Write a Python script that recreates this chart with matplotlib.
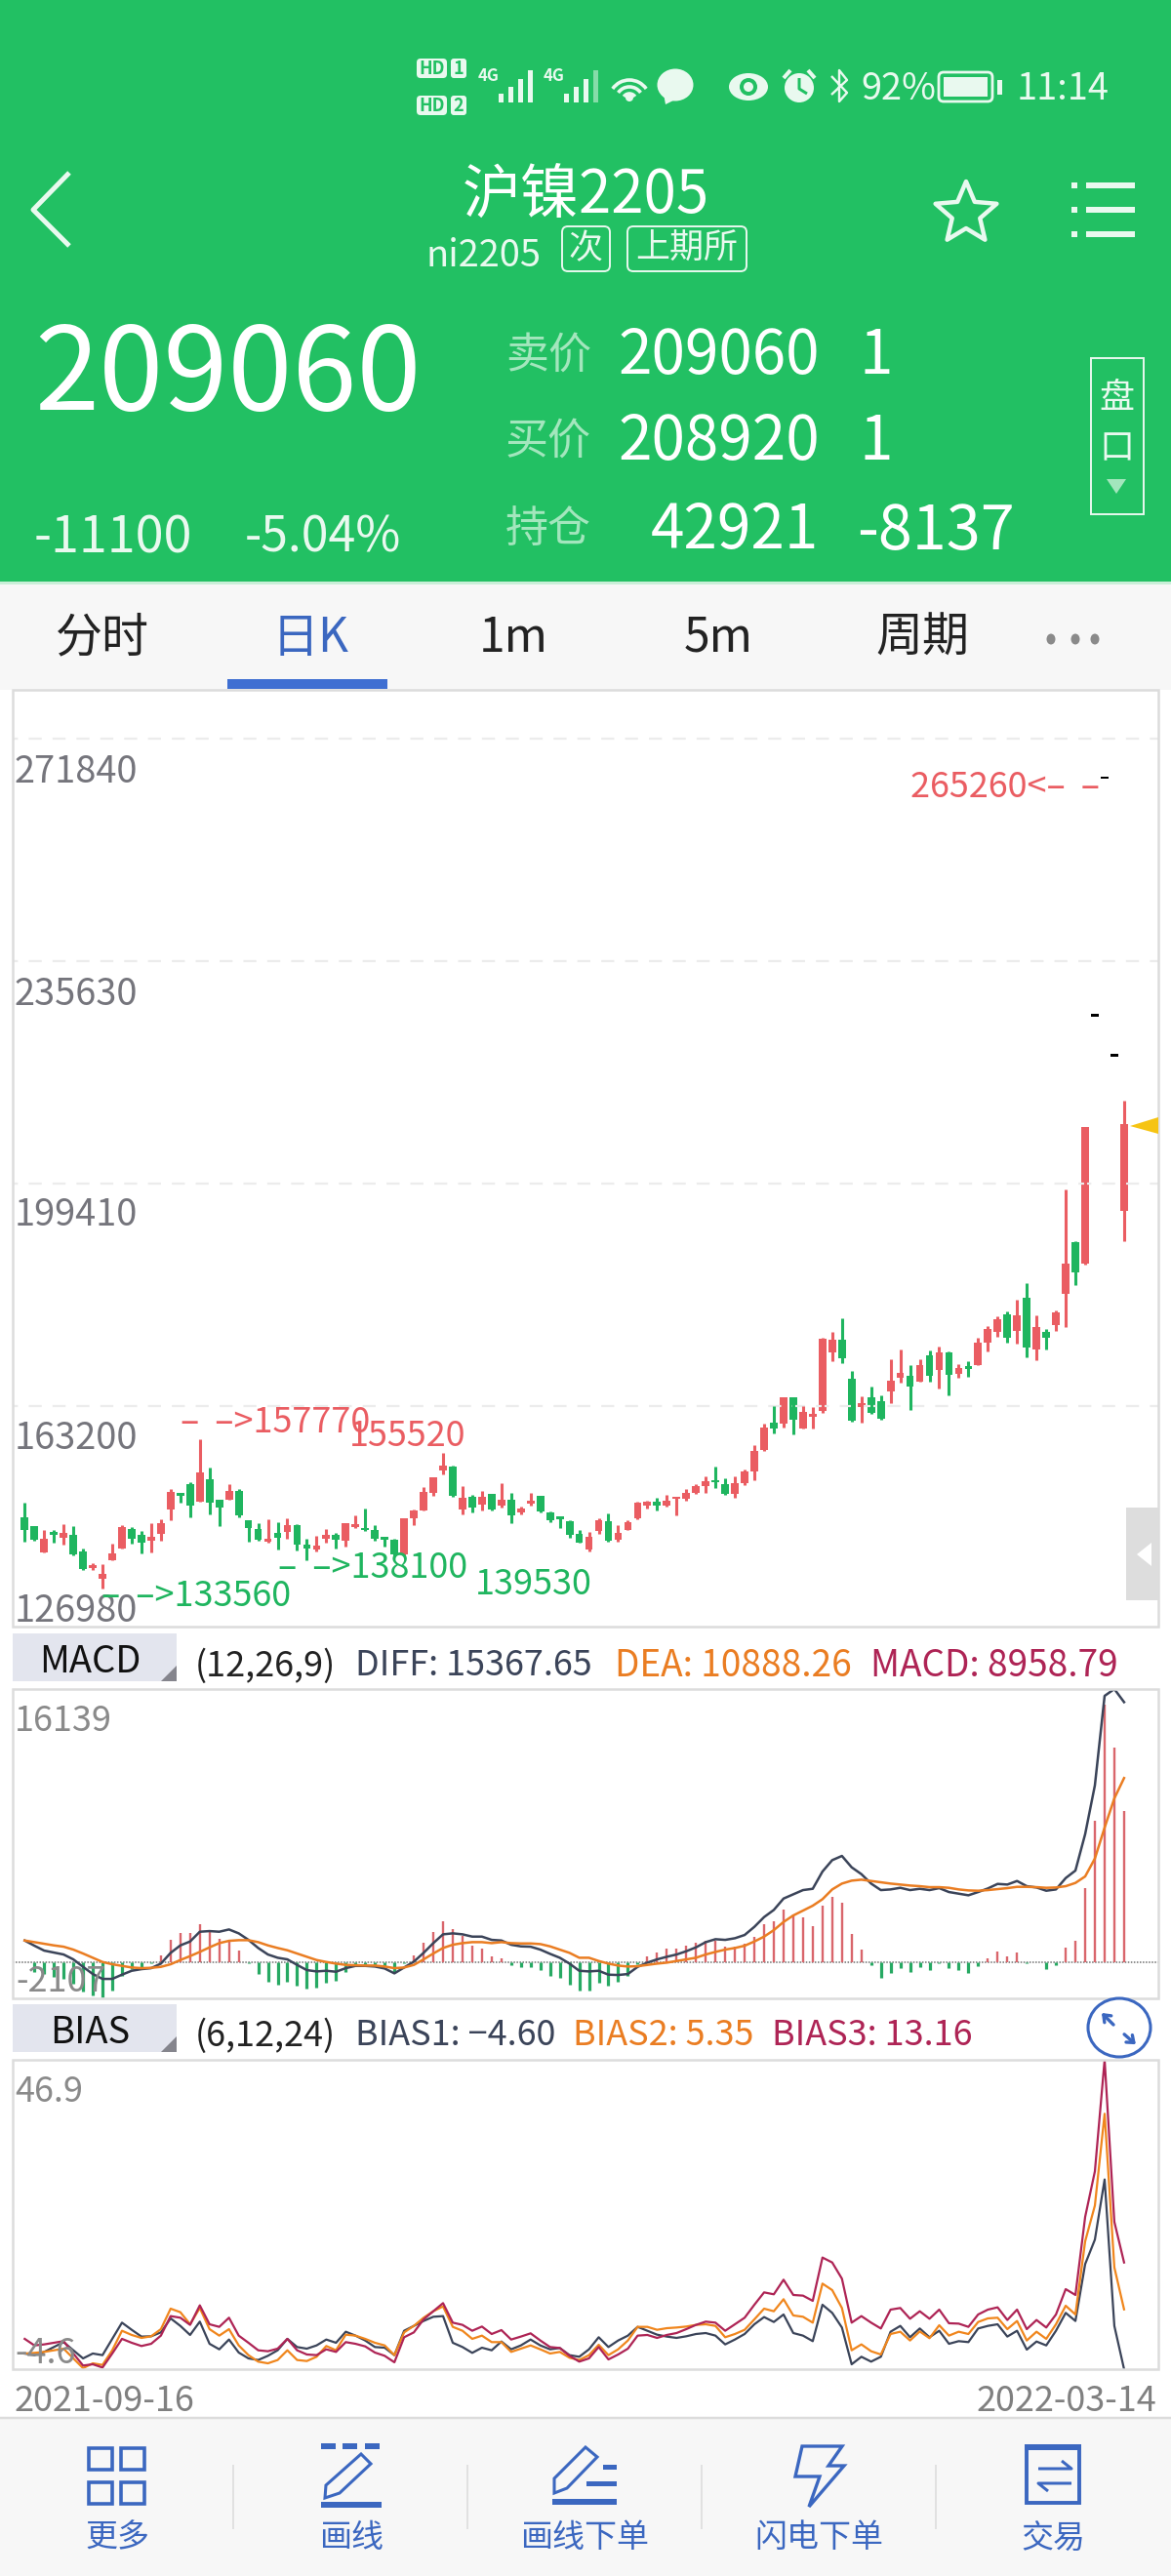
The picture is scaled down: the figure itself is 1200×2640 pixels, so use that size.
import matplotlib
matplotlib.use('Agg')
import matplotlib.pyplot as plt
import numpy as np
from matplotlib.patches import Rectangle, Polygon, Circle, FancyBboxPatch, Arc, Ellipse

plt.rcParams['font.family'] = ['Noto Sans CJK SC', 'DejaVu Sans']

# daily candles, ni2205, 2021-09-16 .. 2022-03-14
opens = [145090, 143610, 139430, 142440, 141760, 142290, 139530, 136880, 135080, 138160,
         139960, 143240, 142290, 141230, 142340, 146310, 148800, 150550, 147690, 151290,
         147900, 147950, 149430, 144560, 143130, 141070, 142550, 142710, 143770, 140590,
         139800, 141650, 142290, 141280, 143500, 143240, 142970, 141650, 141440, 139000,
         144990, 146260, 149060, 152660, 153300, 146420, 148370, 147100, 148850, 147050,
         147900, 145940, 147260, 148530, 145890, 144990, 144460, 142440, 139870, 142810,
         144460, 141400, 143100, 144930, 146920, 147570, 146980, 148040, 148100, 149100,
         150160, 150920, 150450, 148860, 150680, 152560, 156090, 160440, 160320, 164550,
         159560, 161440, 162380, 171900, 173950, 167610, 162970, 164550, 163960, 165610,
         167730, 168080, 167200, 171490, 169020, 172010, 168490, 169370, 169900, 173540,
         175310, 178070, 175420, 180770, 172370, 175310, 176360, 181470, 189940, 186350,
         226580, 265260, 220060, 194990]
closes = [142970, 141390, 141650, 142180, 142600, 139000, 136620, 137150, 135930, 139270,
          143450, 141650, 141010, 141910, 144140, 149170, 148640, 146940, 152400, 147470,
          146730, 149330, 145360, 143400, 141390, 141230, 141810, 143770, 140700, 139960,
          140490, 142290, 141390, 144090, 143660, 142970, 141650, 141390, 139000, 144930,
          146150, 149220, 151550, 153510, 148640, 148270, 146680, 148370, 146310, 147900,
          145460, 146570, 147850, 145990, 144620, 144720, 142290, 141010, 141990, 144570,
          141340, 142580, 144340, 147510, 147630, 147040, 147750, 148220, 149040, 150160,
          151040, 150740, 148860, 150630, 152560, 155970, 159730, 159620, 164550, 160910,
          162200, 161610, 174190, 174070, 171020, 160790, 163670, 162080, 161140, 167370,
          168550, 166310, 169840, 168080, 171900, 168250, 169430, 169190, 173480, 175720,
          177360, 174250, 178010, 172660, 176010, 174310, 178420, 186350, 184940, 208560,
          226580, 265260, 220060, 209060]
highs = [147470, 143610, 142970, 142970, 144030, 143610, 139960, 137680, 137410, 140750,
         143770, 143450, 142810, 144190, 144720, 149700, 148960, 150760, 157770, 153190,
         148000, 150490, 149700, 144670, 144190, 144720, 144300, 144930, 143930, 141540,
         142020, 143130, 142600, 144190, 145360, 146520, 143770, 141810, 141540, 144990,
         146420, 150020, 151550, 155520, 153460, 150120, 148690, 149330, 148900, 150650,
         149060, 146840, 149060, 148640, 146100, 145250, 144560, 142970, 142690, 144930,
         145750, 143750, 144570, 147570, 147750, 148330, 148800, 148330, 149740, 150570,
         151800, 153390, 151390, 151800, 152920, 156910, 160380, 163140, 164550, 164550,
         163140, 162970, 174250, 175250, 177540, 168840, 164730, 166310, 164900, 170780,
         172370, 169840, 170900, 172310, 172950, 172070, 169960, 170550, 174250, 176300,
         177890, 178540, 180590, 183180, 177950, 175720, 178830, 198520, 190110, 208560,
         226580, 265260, 220060, 212850]
lows = [141120, 141280, 139430, 140960, 140700, 138840, 136510, 136460, 133560, 138160,
        139960, 140860, 139270, 139430, 141280, 144670, 147470, 145140, 147690, 145620,
        143720, 147950, 145140, 141120, 141280, 141010, 139900, 141650, 139690, 138100,
        139530, 140960, 140060, 140330, 143340, 142870, 141330, 140380, 138740, 138900,
        143870, 146150, 148530, 152130, 148480, 145620, 145940, 146260, 146150, 146630,
        144190, 145570, 147050, 145830, 144350, 143340, 141810, 140910, 139530, 142460,
        141110, 141110, 143050, 144810, 146570, 146220, 146870, 145340, 147860, 148920,
        149100, 149920, 148750, 148280, 150390, 151100, 155910, 158730, 159730, 158560,
        159500, 159500, 162080, 170430, 170130, 160620, 160440, 161850, 160910, 163610,
        166960, 162550, 167140, 167200, 166020, 164960, 167840, 167960, 169840, 172070,
        174480, 173540, 173310, 171130, 170660, 172370, 175360, 176010, 182830, 186230,
        226580, 265260, 220060, 190000]

macd = [0, -576, -672, -864, -960, -1247, -1727, -1919, -2072, -1631,
        -768, -384, -249, -38, 441, 1343, 1765, 1727, 2264, 1881,
        1401, 1305, 710, -19, -672, -1151, -1305, -1151, -1382, -1535,
        -1497, -1209, -1055, -576, -134, -96, -154, -192, -576, -58,
        422, 1190, 1823, 2437, 1977, 1593, 998, 825, 384, 249,
        -134, -288, -249, -441, -768, -921, -1286, -1631, -1631, -1209,
        -1343, -1151, -768, -96, 384, 614, 806, 844, 998, 1171,
        1286, 1286, 921, 921, 1094, 1535, 2245, 2456, 3109, 2821,
        2648, 2168, 3358, 3896, 3550, 1708, 768, -154, -921, -633,
        -326, -576, -288, -422, -58, -345, -461, -633, -230, 249,
        672, 384, 614, -19, 0, -403, -154, 902, 1305, 4414,
        8348, 15218, 12704, 8959]
diff = [1305, 998, 710, 595, 480, 192, -249, -672, -960, -960,
        -710, -480, -384, -326, -58, 576, 1017, 1247, 1823, 1861,
        1823, 1957, 1727, 1343, 864, 480, 288, 192, -134, -441,
        -518, -480, -537, -326, -192, -192, -230, -345, -633, -288,
        58, 576, 1151, 1670, 1727, 1670, 1535, 1535, 1343, 1305,
        1055, 960, 940, 768, 518, 288, -58, -480, -518, -480,
        -710, -729, -672, -249, 0, 192, 345, 480, 672, 902,
        1209, 1382, 1343, 1439, 1631, 2111, 2687, 3109, 3780, 4030,
        4279, 4356, 5373, 6045, 6294, 5623, 5220, 4663, 4279, 4318,
        4414, 4279, 4356, 4279, 4395, 4164, 4068, 3972, 4164, 4375,
        4644, 4606, 4817, 4510, 4433, 4241, 4318, 4989, 5431, 7580,
        10459, 15736, 16139, 15367]
dea = [1305, 1209, 1113, 1017, 940, 768, 537, 288, 38, -96,
       -192, -288, -326, -307, -249, -96, 154, 384, 633, 902,
       1151, 1286, 1324, 1324, 1209, 1017, 864, 729, 537, 345,
       154, 38, -58, -134, -154, -173, -173, -230, -326, -288,
       -134, 192, 537, 864, 1055, 1151, 1209, 1209, 1151, 1209,
       1151, 1132, 1132, 1094, 960, 768, 576, 288, 288, 96,
       -58, -173, -230, -211, -134, -58, 0, 96, 192, 288,
       480, 633, 768, 864, 998, 1247, 1535, 1919, 2399, 2783,
       3070, 3358, 3742, 4318, 4663, 4836, 4893, 4817, 4740, 4663,
       4606, 4548, 4510, 4452, 4452, 4414, 4318, 4260, 4241, 4279,
       4337, 4395, 4471, 4471, 4452, 4414, 4433, 4510, 4702, 5085,
       6141, 7964, 9691, 10888]

bias1 = [-2.0, -2.27, -1.73, -0.92, -0.1, -1.46, -2.81, -2.0, -2.27, 0.44,
         3.14, 1.95, 0.82, 0.87, 1.52, 3.85, 2.6, 1.09, 3.31, -0.38,
         -1.3, 0.33, -1.84, -2.81, -3.08, -2.38, -1.46, 0.44, -0.92, -1.19,
         -0.65, 0.33, -0.21, 1.63, 0.98, 0.17, -0.92, -1.03, -2.27, 1.79,
         2.6, 3.42, 4.12, 4.23, -0.21, -0.92, -1.89, -1.03, -1.46, 0.0,
         -1.3, -0.65, 0.33, -0.65, -1.3, -1.08, -2.27, -2.54, -1.3, 0.71,
         -0.92, 0.17, 0.98, 2.44, 1.79, 1.14, 0.82, 0.6, 0.87, 1.25,
         1.41, 0.98, -0.48, 0.33, 1.25, 2.87, 4.07, 3.25, 4.5, 1.41,
         0.98, 0.06, 6.12, 4.77, 2.33, -3.79, -2.54, -3.35, -2.54, 1.63,
         2.6, 0.71, 2.17, 0.71, 1.79, -0.38, 0.06, -0.1, 2.17, 2.6,
         2.87, 0.82, 1.79, -1.35, 0.0, -0.65, 1.79, 4.77, 3.42, 12.89,
         16.96, 26.98, 2.6, -4.6]
bias2 = [-2.0, -1.89, -1.73, -1.46, -1.19, -2.81, -4.44, -3.63, -3.9, -1.46,
         1.79, 1.09, 0.6, 0.87, 2.06, 5.47, 4.88, 2.87, 5.58, 2.06,
         0.98, 2.06, -0.65, -2.27, -3.35, -3.63, -3.08, -1.46, -3.08, -3.25,
         -2.54, -0.75, -1.46, 1.14, 0.98, 0.44, -0.21, -0.65, -2.27, 1.52,
         2.6, 3.96, 5.04, 5.85, 2.44, 1.79, 0.44, 0.98, -0.1, -0.1,
         -1.73, -1.19, -0.65, -1.3, -2.0, -1.73, -2.7, -3.08, -2.27, -0.54,
         -2.27, -1.3, 0.17, 2.44, 2.44, 1.95, 2.22, 2.33, 2.49, 2.77,
         2.87, 2.6, 0.71, 1.25, 1.95, 3.69, 5.47, 5.04, 7.04, 4.34,
         4.12, 3.14, 9.64, 8.56, 5.58, -1.46, -0.48, -1.62, -2.16, 1.25,
         1.63, 0.17, 1.68, 0.55, 2.71, 0.98, 1.63, 1.25, 3.25, 3.85,
         3.96, 2.06, 3.42, 0.17, 1.63, 0.44, 2.87, 5.96, 4.5, 16.68,
         22.64, 37.92, 12.35, 5.35]
bias3 = [0.44, -0.65, -0.48, -0.21, 0.06, -2.0, -4.0, -3.79, -4.33, -2.0,
         0.44, -0.21, -0.75, -0.38, 0.98, 4.23, 3.96, 2.77, 6.02, 2.87,
         2.44, 3.96, 0.98, -0.21, -1.46, -1.62, -1.19, 0.44, -1.46, -2.16,
         -2.27, -1.3, -1.73, -0.1, -0.38, -0.81, -1.84, -2.38, -3.46, 0.71,
         1.52, 3.69, 5.04, 6.39, 3.14, 2.77, 1.79, 2.49, 1.25, 1.9,
         0.33, 0.82, 1.36, 0.17, -0.92, -1.08, -2.38, -3.35, -2.81, -0.92,
         -2.98, -2.16, -1.19, 0.98, 1.09, 0.6, 1.09, 1.41, 2.06, 2.77,
         3.31, 3.14, 1.79, 2.87, 3.96, 6.12, 8.18, 7.86, 10.29, 7.75,
         7.64, 6.77, 13.98, 13.16, 10.46, 3.14, 4.23, 3.14, 2.17, 5.31,
         5.58, 3.79, 5.04, 3.79, 5.31, 3.04, 2.98, 2.44, 4.5, 5.31,
         5.69, 3.58, 5.31, 2.06, 3.58, 2.33, 4.5, 8.72, 7.75, 20.75,
         28.33, 46.9, 19.93, 13.16]

price_ticks = [271840, 235630, 199410, 163200]
price_labels = ['271840', '235630', '199410', '163200', '126980']

RED = '#ea5d62'
GREEN = '#1fb55f'
DARK = '#3b4459'
ORANGE = '#ea7d22'
CRIMSON = '#ae2455'
BLUE = '#3b67c0'
HEAD = '#22c063'
GREY = '#75757c'
FRAME = '#dcdcdc'

W, H = 1200, 2640
fig = plt.figure(figsize=(12, 26.4), dpi=100, facecolor='white')


def panel(top, bottom):
    a = fig.add_axes([13 / W, 1 - bottom / H, 1174 / W, (bottom - top) / H])
    a.patch.set_alpha(0)
    a.axis('off')
    # one candle every 9.97px, first one at x=25
    a.set_xlim((13 - 25.3) / 9.97, (1187 - 25.3) / 9.97)
    return a


x = np.arange(len(opens))
o, c, hi, lo = map(np.array, (opens, closes, highs, lows))
col = np.where(c == o, 'black', np.where(c > o, RED, GREEN))

# K line
ax = panel(707, 1667)
ax.set_ylim(127300, 279790)
ax.hlines(price_ticks, -2, 118, color='#ececec', lw=1.6, linestyles=(0, (6, 5)))
ax.vlines(x, lo, hi, colors=col, lw=2.2)
ax.bar(x, np.maximum(np.abs(c - o), 450), bottom=np.minimum(o, c), width=0.78, color=col)

# MACD
ax2 = panel(1731, 2048)
ax2.set_ylim(-2107, 16139)
ax2.axhline(0, color='#6f6f6f', lw=1.1, ls=(0, (1, 1)))
m = np.array(macd)
ax2.vlines(x[m >= 0], 0, m[m >= 0], colors='#d9666c', lw=1.7)
ax2.vlines(x[m < 0], 0, m[m < 0], colors='#27a963', lw=2.3)
ax2.plot(x, diff, color=DARK, lw=1.8)
ax2.plot(x, dea, color=ORANGE, lw=1.8)

# BIAS
ax3 = panel(2111, 2428)
ax3.set_ylim(-4.6, 46.9)
ax3.plot(x, bias1, color=DARK, lw=1.6)
ax3.plot(x, bias2, color='#f0861d', lw=1.6)
ax3.plot(x, bias3, color=CRIMSON, lw=1.6)

# everything else goes on a pixel overlay
ui = fig.add_axes([0, 0, 1, 1], zorder=10)
ui.set_xlim(0, W)
ui.set_ylim(H, 0)
ui.axis('off')
ui.patch.set_alpha(0)


def t(px, py, s, size, color, ha='left', **kw):
    # the CJK font sits high in its box, push it down a bit
    ui.text(px, py + 0.12 * size, s, fontsize=size * 0.72, color=color, ha=ha, va='center', **kw)


def rect(x0, y0, x1, y1, **kw):
    ui.add_patch(Rectangle((x0, y0), x1 - x0, y1 - y0, **kw))


def line(xs, ys, color, lw, **kw):
    ui.plot(xs, ys, color=color, lw=lw * 0.72, solid_capstyle=kw.pop('cap', 'butt'), **kw)


# header
rect(0, 0, W, 596, fc=HEAD, ec='none')
rect(0, 596, W, 707, fc='#f7f7f7', ec='none')
rect(0, 596, W, 599, fc='#c9efd8', ec='none')
WH = '#e9f9ef'

for yy, n in ((70, '1'), (108, '2')):
    ui.add_patch(FancyBboxPatch((427, yy - 10), 31, 20, boxstyle='round,pad=0,rounding_size=4', fc=WH, ec='none'))
    ui.add_patch(FancyBboxPatch((462, yy - 10), 16, 20, boxstyle='round,pad=0,rounding_size=3', fc=WH, ec='none'))
    ui.text(442.5, yy, 'HD', fontsize=13, color=HEAD, ha='center', va='center', weight='bold')
    ui.text(470, yy, n, fontsize=13, color=HEAD, ha='center', va='center', weight='bold')
for x0 in (511, 578):
    ui.text(x0 - 10, 78, '4G', fontsize=12, color=WH, ha='center', va='center', weight='bold')
    for k, h in enumerate((9, 16, 24, 33)):
        rect(x0 + k * 10, 105 - h, x0 + k * 10 + 5, 105, fc=WH if (x0 == 511 or k < 3) else '#86dca8', ec='none')
for r in (10, 20, 30):
    ui.add_patch(Arc((645, 103), r * 1.4, r * 1.4, theta1=215, theta2=325, ec=WH, lw=2.6))
ui.add_patch(Circle((645, 100), 4, fc=WH, ec='none'))
ui.add_patch(Ellipse((692, 87), 37, 33, fc=WH, ec='none'))
ui.add_patch(Polygon([[680, 96], [696, 100], [682, 107]], fc=WH, ec='none'))
ui.add_patch(Ellipse((767, 89), 40, 28, fc=WH, ec='none'))
ui.add_patch(Circle((767, 89), 9, fc=HEAD, ec='none'))
ui.add_patch(Circle((767, 89), 5, fc=WH, ec='none'))
ui.add_patch(Circle((819, 90), 15, fc=WH, ec='none'))
line([819, 819, 827], [80, 91, 96], HEAD, 3)
line([803, 810], [80, 72], WH, 4)
line([835, 828], [80, 72], WH, 4)
line([852, 868, 860, 860, 868, 852], [78, 95, 104, 72, 82, 97], WH, 2.4)
t(882, 87, '92%', 38, WH)
ui.add_patch(FancyBboxPatch((962, 74), 55, 30, boxstyle='round,pad=0,rounding_size=5', fc='none', ec=WH, lw=2))
rect(967, 79, 1012, 99, fc=WH, ec='none')
rect(1022, 82, 1027, 97, fc=WH, ec='none')
t(1042, 87, '11:14', 38, WH)

line([71, 34, 71], [177, 215, 252], WH, 5)
t(600, 194, '沪镍2205', 60, 'white', ha='center')
t(436, 258, 'ni2205', 38, WH)
for x0, x1, s in ((576, 625, '次'), (643, 765, '上期所')):
    ui.add_patch(FancyBboxPatch((x0, 232), x1 - x0, 46, boxstyle='round,pad=0,rounding_size=6', fc='none', ec=WH, lw=1.4))
    t((x0 + x1) / 2, 251, s, 35, WH, ha='center')
star = np.arange(10) * np.pi / 5 - np.pi / 2
rad = np.where(np.arange(10) % 2 == 0, 33, 15)
ui.add_patch(Polygon(np.c_[990 + rad * np.cos(star), 219 + rad * np.sin(star)], fc='none', ec=WH, lw=3.2, joinstyle='round'))
for yy in (190, 215, 240):
    rect(1098, yy - 3, 1104, yy + 3, fc=WH, ec='none')
    rect(1113, yy - 3, 1163, yy + 3, fc=WH, ec='none')

t(35, 372, '209060', 119, 'white')
t(518, 358, '卖价', 44, '#a3e6bd')
t(633, 358, '209060', 62, 'white')
t(880, 358, '1', 62, 'white')
t(518, 446, '买价', 44, '#a3e6bd')
t(633, 446, '208920', 62, 'white')
t(880, 446, '1', 62, 'white')
t(518, 537, '持仓', 44, '#a3e6bd')
t(667, 537, '42921', 62, 'white')
t(878, 537, '-8137', 63, 'white')
t(35, 546, '-11100', 52, WH)
t(251, 546, '-5.04%', 50, WH)
rect(1118, 367, 1172, 527, fc='none', ec=WH, lw=1.4)
t(1144, 404, '盘', 36, WH, ha='center')
t(1144, 456, '口', 36, WH, ha='center')
ui.add_patch(Polygon([[1134, 491], [1154, 491], [1144, 506]], fc='#a3e6bd', ec='none'))

# tabs
for px, s, cc in ((105, '分时', '#222222'), (318, '日K', BLUE), (526, '1m', '#222222'),
                  (736, '5m', '#222222'), (945, '周期', '#222222')):
    t(px, 648, s, 48, cc, ha='center')
for px in (1077, 1102, 1122):
    ui.add_patch(Ellipse((px, 655), 9, 11, fc='#8a8a8a', ec='none'))
rect(233, 696, 397, 706, fc='#3f6fd2', ec='none')

# frames
for y0, y1 in ((707, 1667), (1731, 2048), (2111, 2428)):
    rect(13, y0, 1187, y1, fc='none', ec=FRAME, lw=1.8)

# side handle and last price marker
rect(1154, 1545, 1187, 1640, fc='#dddddd', ec='none')
ui.add_patch(Polygon([[1165, 1593], [1180, 1581], [1180, 1605]], fc='white', ec='none'))
ui.add_patch(Polygon([[1158, 1154], [1187, 1145], [1187, 1162]], fc='#f6c413', ec='none'))

# price labels
for py, s in zip((787, 1015, 1241, 1470, 1647), price_labels):
    t(15, py, s, 38, GREY, weight='medium')
t(379, 1454, '–  –>157770', 36, RED, ha='right')
t(358, 1468, '155520', 36, RED)
t(298, 1632, '–  –>133560', 36, GREEN, ha='right')
t(479, 1603, '–  –>138100', 36, GREEN, ha='right')
t(487, 1620, '139530', 36, GREEN)
t(1127, 803, '265260<–  –', 36, RED, ha='right')

# indicator headers
for y0, y1, s in ((1674, 1723, 'MACD'), (2054, 2103, 'BIAS')):
    rect(13, y0, 181, y1, fc='#e3e5ee', ec='none')
    ui.add_patch(Polygon([[165, y1], [181, y1], [181, y1 - 16]], fc='#85858d', ec='none'))
    t(92, (y0 + y1) / 2, s, 38, '#111111', ha='center', weight='medium')
t(200, 1703, '(12,26,9)', 36, '#222222')
t(364, 1703, 'DIFF: 15367.65', 36, DARK)
t(630, 1703, 'DEA: 10888.26', 37, ORANGE)
t(892, 1703, 'MACD: 8958.79', 37, CRIMSON)
t(200, 2082, '(6,12,24)', 36, '#222222')
t(364, 2082, 'BIAS1: −4.60', 36, DARK)
t(587, 2082, 'BIAS2: 5.35', 36, ORANGE)
t(791, 2082, 'BIAS3: 13.16', 36, CRIMSON)
t(15, 1760, '16139', 36, '#8a8a8a')
t(16, 2027, '-2107', 36, '#8a8a8a')
t(15, 2140, '46.9', 36, '#8a8a8a')
t(15, 2408, '-4.6', 36, '#8a8a8a')
t(15, 2457, '2021-09-16', 36, '#808080', weight='medium')
t(1185, 2457, '2022-03-14', 36, '#808080', ha='right', weight='medium')

# expand button
ui.add_patch(Ellipse((1147, 2078), 64, 60, fc='white', ec=BLUE, lw=2.2))
for a, b in (((1143, 2077), (1127, 2061)), ((1150, 2083), (1166, 2097))):
    ui.annotate('', xy=b, xytext=a, arrowprops=dict(arrowstyle='->,head_width=0.35,head_length=0.45', color=BLUE, lw=2.4))

# bottom bar
rect(0, 2478, W, 2640, fc='#f7f7f7', ec='none')
line([0, W], [2478, 2478], FRAME, 2.5)
for px, s in zip((120, 360, 599, 839, 1079), ('更多', '画线', '画线下单', '闪电下单', '交易')):
    t(px, 2597, s, 33, BLUE, ha='center')
for px in (239, 479, 719, 959):
    line([px, px], [2526, 2592], FRAME, 1.6)
for x0, y0 in ((89, 2507), (122, 2507), (89, 2542), (122, 2542)):
    rect(x0 + 2, y0 + 2, x0 + 26, y0 + 24, fc='none', ec=BLUE, lw=2.6)
for px in (329, 351, 374):
    rect(px, 2504, px + 15, 2510, fc=BLUE, ec='none')
rect(329, 2564, 391, 2570, fc=BLUE, ec='none')
ui.add_patch(Polygon([[333, 2560], [334, 2547], [370, 2515], [380, 2525], [348, 2555]], fc='none', ec=BLUE, lw=2.2))
rect(566, 2561, 632, 2567, fc=BLUE, ec='none')
ui.add_patch(Polygon([[568, 2555], [568, 2540], [600, 2508], [612, 2518], [581, 2550]], fc='none', ec=BLUE, lw=2.2))
rect(618, 2526, 632, 2531, fc=BLUE, ec='none')
rect(601, 2543, 632, 2548, fc=BLUE, ec='none')
ui.add_patch(Polygon([[822, 2507], [863, 2507], [849, 2527], [865, 2527], [829, 2569], [840, 2538], [815, 2538]],
                     fc='none', ec=BLUE, lw=2.4))
rect(1052, 2508, 1106, 2565, fc='none', ec=BLUE, lw=2.8)
rect(1050, 2505, 1108, 2511, fc=BLUE, ec='none')
line([1064, 1098, 1088], [2530, 2530, 2522], BLUE, 3)
line([1098, 1064, 1074], [2545, 2545, 2553], BLUE, 3)

plt.savefig('out.png', dpi=100)
